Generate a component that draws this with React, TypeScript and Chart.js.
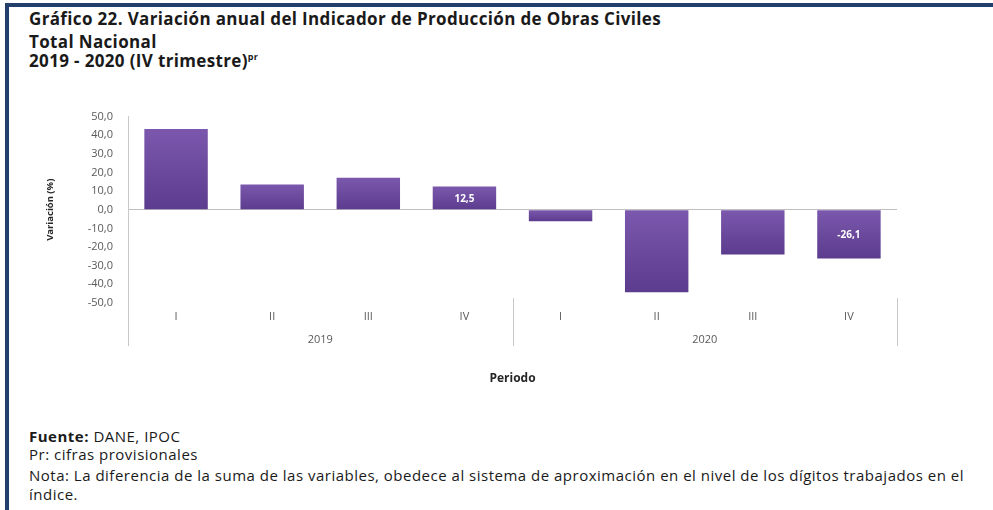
import React, { useEffect, useRef } from "react";
import { Chart, registerables } from "chart.js";

Chart.register(...registerables);

const quarters = ["I", "II", "III", "IV", "I", "II", "III", "IV"];
const years = ["2019", "2020"];
const variation = [43.3, 13.6, 17.1, 12.5, -6.2, -44.2, -24.0, -26.1];
const showLabel = [false, false, false, true, false, false, false, true];
const yMin = -50;
const yMax = 50;
const yStep = 10;

const titleLines = [
  "Gráfico 22. Variación anual del Indicador de Producción de Obras Civiles",
  "Total Nacional",
  "2019 - 2020 (IV trimestre)",
];
const yTitle = "Variación (%)";
const xTitle = "Periodo";
const fuente = "DANE, IPOC";
const notaLines = [
  "Pr: cifras provisionales",
  "Nota: La diferencia de la suma de las variables, obedece al sistema de aproximación en el nivel de los dígitos trabajados en el",
  "índice.",
];

const FONT = "'Open Sans', 'DejaVu Sans', sans-serif";
const fmt = (v: number) => v.toFixed(1).replace(".", ",");

export default function App() {
  const ref = useRef<HTMLCanvasElement | null>(null);

  useEffect(() => {
    if (!ref.current) return;
    Chart.defaults.font.family = FONT;

    const separators = {
      id: "separators",
      afterDraw(chart: any) {
        const xs = chart.scales.x;
        const x2 = chart.scales.x2;
        const area = chart.chartArea;
        const c = chart.ctx;
        const positions = [
          area.left,
          (xs.getPixelForTick(3) + xs.getPixelForTick(4)) / 2,
          area.right,
        ];
        c.save();
        c.strokeStyle = "#c8c8c8";
        c.lineWidth = 1;
        positions.forEach((px) => {
          const x = Math.round(px) + 0.5;
          c.beginPath();
          c.moveTo(x, area.bottom - 5);
          c.lineTo(x, x2.top + 17);
          c.stroke();
        });
        c.restore();
      },
    };

    const valueLabels = {
      id: "valueLabels",
      afterDatasetsDraw(chart: any) {
        const meta = chart.getDatasetMeta(0);
        const c = chart.ctx;
        c.save();
        c.fillStyle = "#ffffff";
        c.font = `bold 10px ${FONT}`;
        c.textAlign = "center";
        c.textBaseline = "middle";
        meta.data.forEach((bar: any, i: number) => {
          if (!showLabel[i]) return;
          const p = bar.getProps(["x", "y", "base"], true);
          c.fillText(fmt(variation[i]), p.x, (p.y + p.base) / 2 + 1);
        });
        c.restore();
      },
    };

    const chart = new Chart(ref.current, {
      type: "bar",
      data: {
        labels: quarters,
        datasets: [
          {
            data: variation,
            backgroundColor: (ctx: any) => {
              const ch = ctx.chart;
              const ys = ch.scales?.y;
              if (!ch.chartArea || !ys || ctx.dataIndex === undefined) return "#6a4a9c";
              const a = ys.getPixelForValue(variation[ctx.dataIndex]);
              const b = ys.getPixelForValue(0);
              const top = Math.min(a, b);
              const bot = Math.max(a, b);
              if (!(bot > top)) return "#6a4a9c";
              const g = ch.ctx.createLinearGradient(0, top, 0, bot);
              g.addColorStop(0, "#7b58ad");
              g.addColorStop(1, "#5c3c8e");
              return g;
            },
            borderWidth: 0,
            barPercentage: 0.66,
            categoryPercentage: 1,
          },
        ],
      },
      options: {
        animation: false,
        responsive: false,
        maintainAspectRatio: false,
        layout: { padding: { top: 16.5, right: 96, left: 0, bottom: 0 } },
        plugins: { legend: { display: false }, tooltip: { enabled: false } },
        scales: {
          x: {
            type: "category",
            offset: true,
            grid: { display: false, drawTicks: false },
            border: { display: false },
            ticks: { color: "#595959", font: { size: 11 }, padding: 7, maxRotation: 0, autoSkip: false },
            afterFit: (s: any) => {
              s.height = 26;
            },
          },
          x2: {
            type: "category",
            labels: years,
            position: "bottom",
            weight: 1,
            offset: true,
            grid: { display: false, drawTicks: false },
            border: { display: false },
            ticks: { color: "#595959", font: { size: 11 }, padding: 4, maxRotation: 0, autoSkip: false },
            title: {
              display: true,
              text: xTitle,
              color: "#262626",
              font: { size: 12, weight: "bold" },
              padding: { top: 0, bottom: 14 },
            },
            afterFit: (s: any) => {
              s.height = 71;
            },
          },
          y: {
            min: yMin,
            max: yMax,
            ticks: {
              stepSize: yStep,
              padding: 3,
              color: "#595959",
              font: { size: 11 },
              callback: (v: any) => fmt(Number(v)),
            },
            grid: {
              drawTicks: true,
              tickLength: 12,
              tickColor: "rgba(0,0,0,0)",
              color: (ctx: any) => (ctx.tick && ctx.tick.value === 0 ? "#bfbfbf" : "rgba(0,0,0,0)"),
            },
            border: { display: true, color: "#c8c8c8" },
            title: {
              display: true,
              text: yTitle,
              color: "#262626",
              font: { size: 9.5, weight: "bold" },
              padding: { top: 45, bottom: 0 },
            },
            afterFit: (s: any) => {
              s.width = 128;
            },
          },
        },
      } as any,
      plugins: [separators, valueLabels],
    });
    return () => chart.destroy();
  }, []);

  const navy = "#23406c";
  return (
    <div
      style={{
        position: "absolute",
        left: 0,
        top: 0,
        width: 993,
        height: 510,
        background: "#ffffff",
        overflow: "hidden",
        fontFamily: FONT,
        color: "#1a1a1a",
      }}
    >
      <canvas
        ref={ref}
        width={993}
        height={300}
        style={{ position: "absolute", left: 0, top: 100, width: 993, height: 300 }}
      />
      <div style={{ position: "absolute", left: 5, top: 3, width: 988, height: 4, background: navy }} />
      <div style={{ position: "absolute", left: 5, top: 3, width: 4, height: 507, background: navy }} />
      {titleLines.map((t, i) => (
        <div
          key={i}
          style={{
            position: "absolute",
            left: 29,
            top: [9, 32, 51][i],
            fontSize: 17,
            letterSpacing: "0.35px",
            lineHeight: "20px",
            fontWeight: 700,
            whiteSpace: "nowrap",
          }}
        >
          {t}
          {i === 2 ? <sup style={{ fontSize: 9, verticalAlign: "7px", lineHeight: 0 }}>pr</sup> : null}
        </div>
      ))}
      <div
        style={{
          position: "absolute",
          left: 29,
          top: 426,
          fontSize: 15,
          letterSpacing: "0.5px",
          lineHeight: "20px",
          whiteSpace: "nowrap",
        }}
      >
        <b>Fuente:</b> {fuente}
      </div>
      {notaLines.map((t, i) => (
        <div
          key={i}
          style={{
            position: "absolute",
            left: 29,
            top: [444, 465, 484][i],
            fontSize: 15,
            letterSpacing: "0.5px",
            lineHeight: "20px",
            whiteSpace: "nowrap",
          }}
        >
          {t}
        </div>
      ))}
    </div>
  );
}
